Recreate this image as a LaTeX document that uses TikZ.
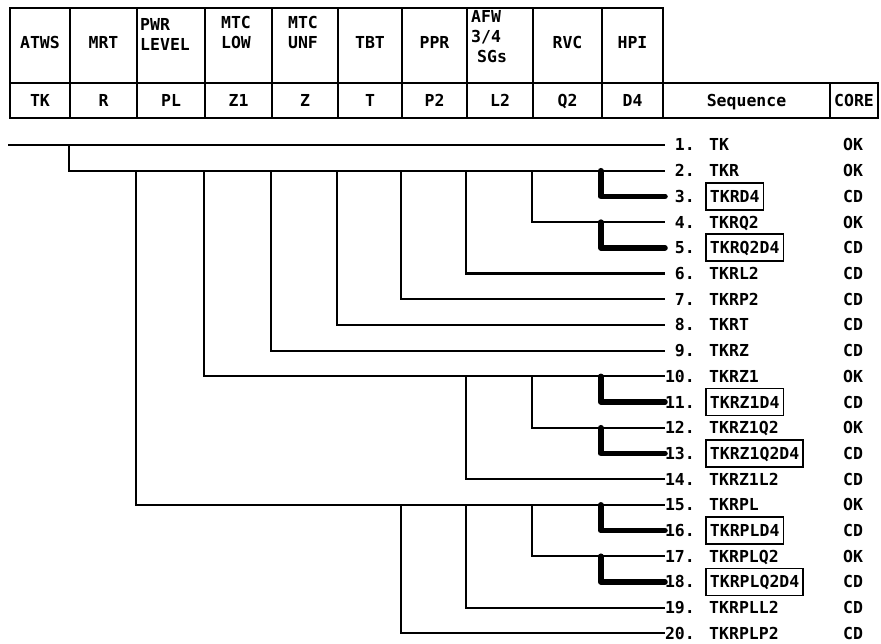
\documentclass[tikz,border=0pt]{standalone}
\usepackage{fontspec}
\newfontfamily\plotfont{DejaVu Sans Mono}
\usepackage{tikz}
\usetikzlibrary{positioning}
\newcommand{\rowfont}{\plotfont\bfseries\fontsize{16.5}{20}\selectfont}

\begin{document}
\begin{tikzpicture}[x=1pt, y=-1pt,
    cell/.style={draw, line width=2.4pt, minimum height=75pt, inner sep=0pt,
                 text height=12pt, text depth=5pt, font=\rowfont},
    codecell/.style={draw, line width=2.4pt, minimum height=35pt, inner sep=0pt,
                     text height=12pt, text depth=0pt, font=\rowfont},
    hdtext/.style={inner sep=0pt, font=\rowfont},
    tree/.style={line width=2.1pt},
    cdpath/.style={line width=5.5pt, line cap=round, line join=round},
    num/.style={anchor=east, inner sep=0pt, text height=12pt, text depth=0pt,
                font=\rowfont},
    seqname/.style={anchor=west, inner xsep=4pt, inner ysep=7.5pt,
                    text height=12pt, text depth=0pt, font=\rowfont},
    plain/.style={},
    boxed/.style={draw, line width=1.8pt}
  ]
    \useasboundingbox (0,0) rectangle (881,644);

    % event headings
    \node[cell, minimum width=60pt] (atws) at (40,45.5) {ATWS};
    \node[cell, minimum width=67pt] (mrt) at (103.5,45.5) {MRT};
    \node[cell, minimum width=68pt] (pwr) at (171,45.5) {};
    \node[cell, minimum width=67pt] (mtclow) at (238.5,45.5) {};
    \node[cell, minimum width=66pt] (mtcunf) at (305,45.5) {};
    \node[cell, minimum width=64pt] (tbt) at (370,45.5) {TBT};
    \node[cell, minimum width=65pt] (ppr) at (434.5,45.5) {PPR};
    \node[cell, minimum width=66pt] (afw) at (500,45.5) {};
    \node[cell, minimum width=69pt] (rvc) at (567.5,45.5) {RVC};
    \node[cell, minimum width=61pt] (hpi) at (632.5,45.5) {HPI};
    \node[hdtext, anchor=north west, align=left] (pwrtxt) at (140,18) {PWR\\LEVEL};
    \node[hdtext, anchor=north, align=center] (lowtxt) at (236,16) {MTC\\LOW};
    \node[hdtext, anchor=north, align=center] (unftxt) at (303,16) {MTC\\UNF};
    \node[hdtext, anchor=north west, align=left] (afwtxt) at (471,10)
      {AFW\\3/4\\\hspace*{6pt}SGs};

    % event codes
    \node[codecell, minimum width=60pt] (TK) at (40,100.5) {TK};
    \node[codecell, minimum width=67pt] (R) at (103.5,100.5) {R};
    \node[codecell, minimum width=68pt] (PL) at (171,100.5) {PL};
    \node[codecell, minimum width=67pt] (Z1) at (238.5,100.5) {Z1};
    \node[codecell, minimum width=66pt] (Z) at (305,100.5) {Z};
    \node[codecell, minimum width=64pt] (T) at (370,100.5) {T};
    \node[codecell, minimum width=65pt] (P2) at (434.5,100.5) {P2};
    \node[codecell, minimum width=66pt] (L2) at (500,100.5) {L2};
    \node[codecell, minimum width=69pt] (Q2) at (567.5,100.5) {Q2};
    \node[codecell, minimum width=61pt] (D4) at (632.5,100.5) {D4};
    \node[codecell, minimum width=167pt] (seqhd) at (746.5,100.5) {Sequence};
    \node[codecell, minimum width=48pt] (corehd) at (854,100.5) {CORE};

    % sequences
    \foreach \i/\nm/\res/\st in {1/TK/OK/plain, 2/TKR/OK/plain,
        3/TKRD4/CD/boxed, 4/TKRQ2/OK/plain, 5/TKRQ2D4/CD/boxed,
        6/TKRL2/CD/plain, 7/TKRP2/CD/plain, 8/TKRT/CD/plain,
        9/TKRZ/CD/plain, 10/TKRZ1/OK/plain, 11/TKRZ1D4/CD/boxed,
        12/TKRZ1Q2/OK/plain, 13/TKRZ1Q2D4/CD/boxed, 14/TKRZ1L2/CD/plain,
        15/TKRPL/OK/plain, 16/TKRPLD4/CD/boxed, 17/TKRPLQ2/OK/plain,
        18/TKRPLQ2D4/CD/boxed, 19/TKRPLL2/CD/plain, 20/TKRPLP2/CD/plain} {
      \pgfmathsetmacro{\yy}{145+(\i-1)*25.7}
      \coordinate (r\i) at (665,\yy);
      \node[num] (n\i) at (695,\yy) {\i.};
      \node[seqname, \st] (s\i) at (705,\yy) {\nm};
      \node[num, anchor=center] (c\i) at (853,\yy) {\res};
    }

    % event tree
    \coordinate (t0) at (8,145);
    \draw[tree] (t0) -- (r1);
    \draw[tree] (r1 -| R.west) |- (r2);
    \draw[tree] (r2 -| PL.west) |- (r15);
    \draw[tree] (r2 -| Z1.west) |- (r10);
    \draw[tree] (r2 -| Z.west) |- (r9);
    \draw[tree] (r2 -| T.west) |- (r8);
    \draw[tree] (r2 -| P2.west) |- (r7);
    \draw[tree] (r2 -| L2.west) |- (r6);
    \draw[tree] (r2 -| Q2.west) |- (r4);
    \draw[cdpath] (r2 -| D4.west) |- (r3);
    \draw[cdpath] (r4 -| D4.west) |- (r5);
    \draw[tree] (r10 -| L2.west) |- (r14);
    \draw[tree] (r10 -| Q2.west) |- (r12);
    \draw[cdpath] (r10 -| D4.west) |- (r11);
    \draw[cdpath] (r12 -| D4.west) |- (r13);
    \draw[tree] (r15 -| P2.west) |- (r20);
    \draw[tree] (r15 -| L2.west) |- (r19);
    \draw[tree] (r15 -| Q2.west) |- (r17);
    \draw[cdpath] (r15 -| D4.west) |- (r16);
    \draw[cdpath] (r17 -| D4.west) |- (r18);
  \end{tikzpicture}
\end{document}
